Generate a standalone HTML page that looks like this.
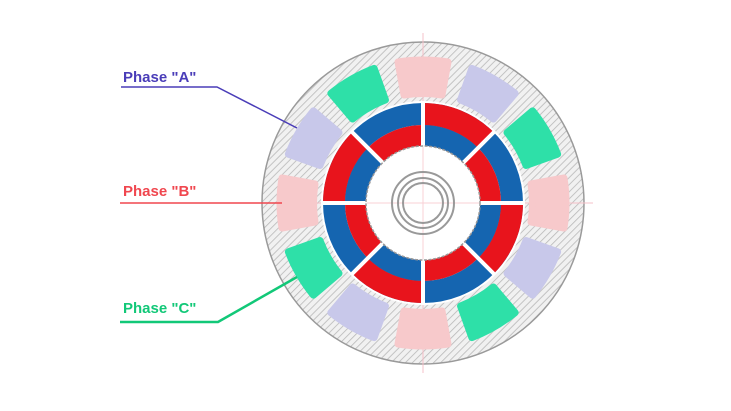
<!DOCTYPE html>
<html><head><meta charset="utf-8"><style>
html,body{margin:0;padding:0;background:#fff;}
svg{display:block;}
text{font-family:"Liberation Sans",sans-serif;font-weight:bold;font-size:15px;}
</style></head><body>
<svg width="731" height="411" viewBox="0 0 731 411" xmlns="http://www.w3.org/2000/svg">
<defs>
<pattern id="h" patternUnits="userSpaceOnUse" width="5" height="5" patternTransform="rotate(45)">
<rect width="5" height="5" fill="#f1f1f1"/>
<line x1="0" y1="0" x2="0" y2="5" stroke="#b8b8b8" stroke-width="1.6"/>
</pattern>
<path id="c" d="M-25,-141 Q0,-145 25,-141 L19,-108 Q0,-111 -19,-108 Z" stroke-width="7" stroke-linejoin="round"/>
</defs>
<g transform="translate(423,203)">
<circle r="161" fill="url(#h)" stroke="#9a9a9a" stroke-width="1.5"/>
<line x1="-170" y1="0" x2="170" y2="0" stroke="#f5c0c8" stroke-width="1"/>
<line x1="0" y1="-170" x2="0" y2="170" stroke="#f5c0c8" stroke-width="1"/>
<g>
<use href="#c" transform="rotate(0)" fill="#f7c9cb" stroke="#f7c9cb"/>
<use href="#c" transform="rotate(30)" fill="#c8c8ea" stroke="#c8c8ea"/>
<use href="#c" transform="rotate(60)" fill="#2ee0a8" stroke="#2ee0a8"/>
<use href="#c" transform="rotate(90)" fill="#f7c9cb" stroke="#f7c9cb"/>
<use href="#c" transform="rotate(120)" fill="#c8c8ea" stroke="#c8c8ea"/>
<use href="#c" transform="rotate(150)" fill="#2ee0a8" stroke="#2ee0a8"/>
<use href="#c" transform="rotate(180)" fill="#f7c9cb" stroke="#f7c9cb"/>
<use href="#c" transform="rotate(210)" fill="#c8c8ea" stroke="#c8c8ea"/>
<use href="#c" transform="rotate(240)" fill="#2ee0a8" stroke="#2ee0a8"/>
<use href="#c" transform="rotate(270)" fill="#f7c9cb" stroke="#f7c9cb"/>
<use href="#c" transform="rotate(300)" fill="#c8c8ea" stroke="#c8c8ea"/>
<use href="#c" transform="rotate(330)" fill="#2ee0a8" stroke="#2ee0a8"/>
</g>
<circle r="102" fill="#fff"/>
<g>
<circle r="89" fill="none" stroke="#1565b0" stroke-width="22"/>
<circle r="67.5" fill="none" stroke="#e8141c" stroke-width="21"/>
<path d="M0,-100 A100,100 0 0 1 70.71,-70.71 L55.15,-55.15 A78,78 0 0 0 0,-78 Z" fill="#e8141c"/>
<path d="M0,-78 A78,78 0 0 1 55.15,-55.15 L40.3,-40.3 A57,57 0 0 0 0,-57 Z" fill="#1565b0"/>
<g transform="rotate(-90)">
<path d="M0,-100 A100,100 0 0 1 70.71,-70.71 L55.15,-55.15 A78,78 0 0 0 0,-78 Z" fill="#e8141c"/>
<path d="M0,-78 A78,78 0 0 1 55.15,-55.15 L40.3,-40.3 A57,57 0 0 0 0,-57 Z" fill="#1565b0"/>
</g>
<g transform="rotate(-180)">
<path d="M0,-100 A100,100 0 0 1 70.71,-70.71 L55.15,-55.15 A78,78 0 0 0 0,-78 Z" fill="#e8141c"/>
<path d="M0,-78 A78,78 0 0 1 55.15,-55.15 L40.3,-40.3 A57,57 0 0 0 0,-57 Z" fill="#1565b0"/>
</g>
<g transform="rotate(-270)">
<path d="M0,-100 A100,100 0 0 1 70.71,-70.71 L55.15,-55.15 A78,78 0 0 0 0,-78 Z" fill="#e8141c"/>
<path d="M0,-78 A78,78 0 0 1 55.15,-55.15 L40.3,-40.3 A57,57 0 0 0 0,-57 Z" fill="#1565b0"/>
</g>
<g stroke="#fff" stroke-width="4">
<line x1="-101" y1="0" x2="101" y2="0"/>
<line x1="0" y1="-101" x2="0" y2="101"/>
<line x1="-71.5" y1="-71.5" x2="71.5" y2="71.5"/>
<line x1="-71.5" y1="71.5" x2="71.5" y2="-71.5"/>
</g>
</g>
<circle r="57" fill="#fff" stroke="#999" stroke-width="1.5" stroke-dasharray="3,1.5"/>
<line x1="-56" y1="0" x2="56" y2="0" stroke="#f8d0d6" stroke-width="1"/>
<line x1="0" y1="-56" x2="0" y2="56" stroke="#f8d0d6" stroke-width="1"/>
<circle r="31" fill="none" stroke="#999" stroke-width="2"/>
<circle r="25" fill="none" stroke="#999" stroke-width="2"/>
<circle r="20" fill="none" stroke="#999" stroke-width="2"/>
</g>
<text x="123" y="82" fill="#4a3db8">Phase "A"</text>
<polyline points="121,87 217,87 297,128" fill="none" stroke="#4a3db8" stroke-width="1.5"/>
<text x="123" y="196" fill="#f0474f">Phase "B"</text>
<line x1="120" y1="203" x2="282" y2="203" stroke="#f0474f" stroke-width="1.5"/>
<text x="123" y="313" fill="#12c878">Phase "C"</text>
<polyline points="120,322 218,322 297,277" fill="none" stroke="#12c878" stroke-width="2.5"/>
</svg>
</body></html>
